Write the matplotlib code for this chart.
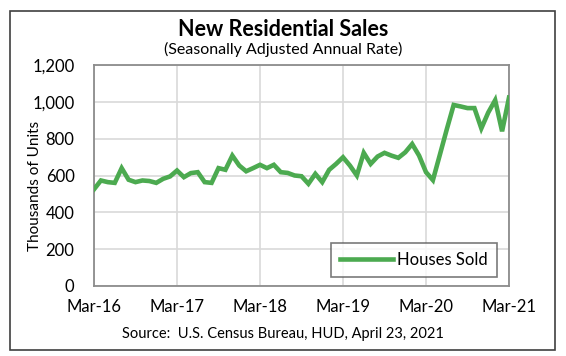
import matplotlib.pyplot as plt
from matplotlib.patches import Rectangle

# New home sales, thousands of units (SAAR), monthly Mar-2016 .. Mar-2021
sales = [
    525, 573, 564, 560, 640, 577, 564, 573, 570, 560, 582, 595,   # Mar-16 .. Feb-17
    627, 591, 613, 618, 564, 560, 640, 631, 708, 654, 623, 640,   # Mar-17 .. Feb-18
    658, 640, 658, 618, 614, 600, 596, 555, 609, 564, 631, 663,   # Mar-18 .. Feb-19
    699, 654, 600, 723, 663, 703, 723, 708, 696, 726, 771, 708,   # Mar-19 .. Feb-20
    618, 575, 712, 850, 983, 975, 966, 966, 856, 942, 1009, 840,  # Mar-20 .. Feb-21
    1023,                                                         # Mar-21
]
tick_labels = ['Mar-16', 'Mar-17', 'Mar-18', 'Mar-19', 'Mar-20', 'Mar-21']
y_ticks = [0, 200, 400, 600, 800, 1000, 1200]

plt.rcParams['font.family'] = ['Lato', 'DejaVu Sans']

fig = plt.figure(figsize=(5.66, 3.56), dpi=100)
ax = fig.add_axes([94 / 566, 1 - 286 / 356, 415 / 566, 221 / 356])

months = list(range(len(sales)))
ax.plot(months, sales, color='#4CAA50', linewidth=3.3, label='Houses Sold',
        solid_joinstyle='miter', zorder=3)

ax.set_xlim(0, 60)
ax.set_ylim(0, 1200)
ax.set_xticks(range(0, 61, 12))
ax.set_xticklabels(tick_labels, fontsize=12)
ax.set_yticks(y_ticks)
ax.set_yticklabels([f'{v:,}' for v in y_ticks], fontsize=12)
ax.tick_params(length=0)
ax.tick_params(axis='x', pad=9)
ax.tick_params(axis='y', pad=14)
ax.grid(True, color='#D9D9D9', linewidth=1.2)
ax.set_axisbelow(True)
for s in ax.spines.values():
    s.set_color('#8C8C8C')
    s.set_linewidth(1.3)

ax.set_ylabel('Thousands of Units', fontsize=11)
ax.yaxis.set_label_coords(-52 / 415, 0.455)

leg = ax.legend(loc='lower right', bbox_to_anchor=(0.97, 0.04), fontsize=12,
                fancybox=False, edgecolor='#595959', handlelength=3.2,
                borderpad=0.55, borderaxespad=0, handletextpad=0.2)
leg.get_frame().set_linewidth(1.2)
leg.get_frame().set_boxstyle('square', pad=0)

fig.text(0.5, 1 - 30 / 356, 'New Residential Sales', ha='center', va='center',
         fontsize=15.5, fontweight='bold')
fig.text(0.5, 1 - 49 / 356, '(Seasonally Adjusted Annual Rate)', ha='center',
         va='center', fontsize=11.5)
fig.text(0.5, 1 - 334 / 356, 'Source:  U.S. Census Bureau, HUD, April 23, 2021',
         ha='center', va='center', fontsize=10.5)

fig.patches.append(Rectangle((10 / 566, 1 - 350 / 356), 545 / 566, 339 / 356,
                             transform=fig.transFigure, fill=False,
                             edgecolor='#404040', linewidth=1.2))

fig.savefig('out.png', dpi=100)
